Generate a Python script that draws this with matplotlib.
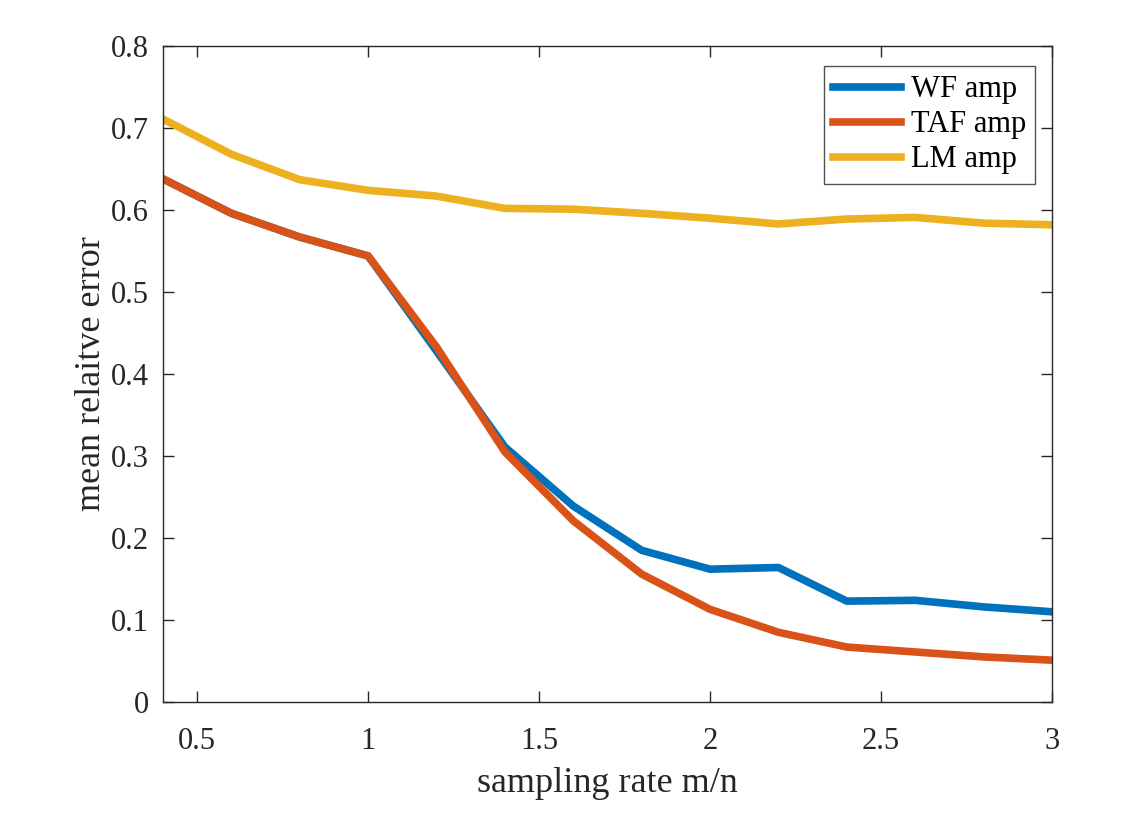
import matplotlib.pyplot as plt
import numpy as np

rate = [0.4, 0.6, 0.8, 1.0, 1.2, 1.4, 1.6, 1.8, 2.0, 2.2, 2.4, 2.6, 2.8, 3.0]
wf_amp = [0.638, 0.596, 0.567, 0.544, 0.428, 0.311, 0.239, 0.185, 0.162, 0.164, 0.123, 0.124, 0.116, 0.110]
taf_amp = [0.638, 0.596, 0.567, 0.544, 0.433, 0.305, 0.221, 0.156, 0.113, 0.085, 0.067, 0.061, 0.055, 0.051]
lm_amp = [0.711, 0.668, 0.637, 0.624, 0.617, 0.602, 0.601, 0.596, 0.590, 0.583, 0.589, 0.591, 0.584, 0.582]

plt.rcParams['font.family'] = ['Liberation Serif', 'DejaVu Serif']

fig = plt.figure(figsize=(11.31, 8.22), dpi=100)
ax = fig.add_axes([0.1441, 0.146, 0.786, 0.798])

lw = 5.5
ax.plot(rate, wf_amp, color='#0072BD', lw=lw, label='WF amp')
ax.plot(rate, taf_amp, color='#D95319', lw=lw, label='TAF amp')
ax.plot(rate, lm_amp, color='#EDB120', lw=lw, label='LM amp')

ax.set_xlim(0.4, 3)
ax.set_ylim(0, 0.8)
ax.set_xticks([0.5, 1, 1.5, 2, 2.5, 3])
ax.set_xticklabels(['0.5', '1', '1.5', '2', '2.5', '3'])
ax.set_yticks(np.arange(0, 0.81, 0.1))
ax.set_yticklabels(['0', '0.1', '0.2', '0.3', '0.4', '0.5', '0.6', '0.7', '0.8'])

for s in ax.spines.values():
    s.set_color('#262626')
    s.set_linewidth(1.0)
ax.tick_params(direction='in', top=True, right=True, length=8, width=1.0,
               colors='#262626', labelsize=22)
ax.tick_params(axis='x', pad=18)
ax.tick_params(axis='y', pad=10)

ax.set_xlabel('sampling rate m/n', fontsize=26, color='#262626', labelpad=8)
ax.set_ylabel('mean relaitve error', fontsize=26, color='#262626', labelpad=2)

leg = ax.legend(loc='upper right', bbox_to_anchor=(0.981, 0.9695), fontsize=22,
                frameon=True, fancybox=False, edgecolor='#262626',
                handlelength=2.25, handletextpad=0.3, borderpad=0.3, labelspacing=0.2,
                borderaxespad=0.0)
leg.get_frame().set_linewidth(1.0)

fig.savefig('out.png', dpi=100)
